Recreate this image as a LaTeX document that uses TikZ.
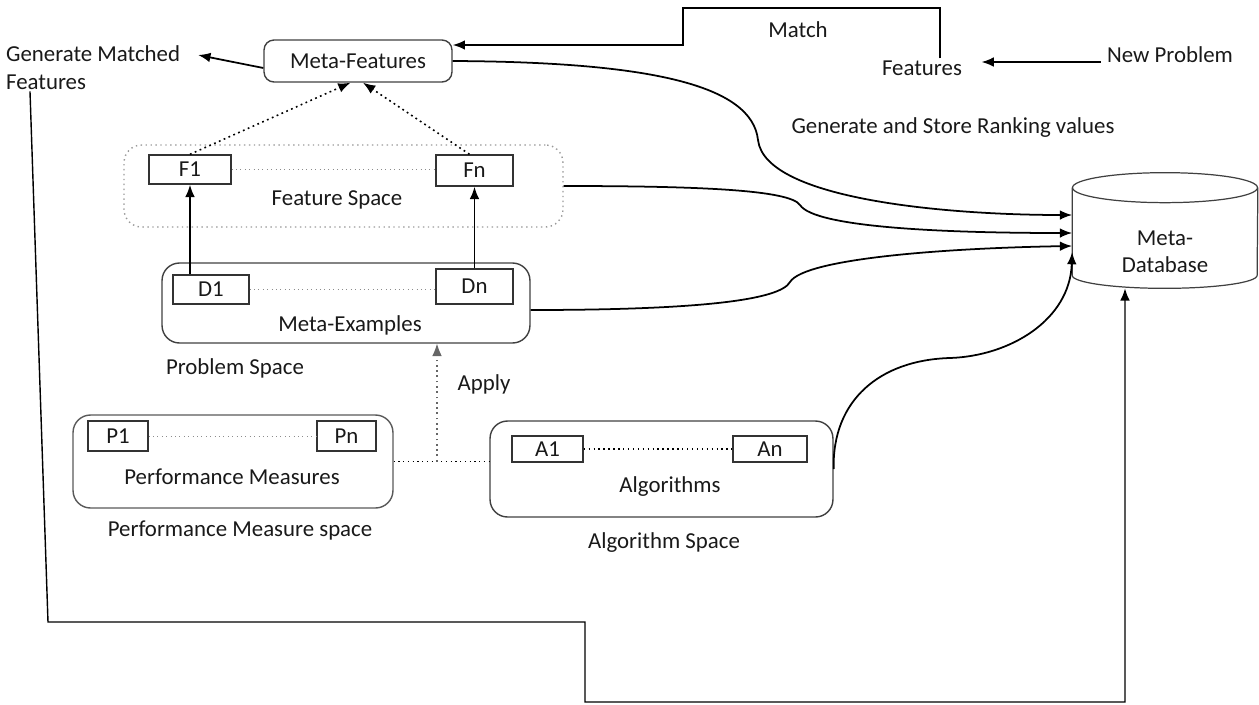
\documentclass[tikz,border=0pt]{standalone}
\usepackage{fontspec}
\setmainfont{Carlito}
\usetikzlibrary{arrows.meta}
\tikzset{
  every node/.style={font=\fontsize{13}{15.5}\selectfont, text=black!90},
  box/.style={draw=black!80, line width=0.8pt, inner sep=0pt},
  space/.style={draw=black!75, line width=0.8pt, rounded corners=0.35cm, inner sep=0pt},
  arr/.style={-{Latex[length=7pt,width=5.5pt]}, line width=1pt},
  link/.style={dotted, draw=black!45, line width=0.5pt},
  dotarr/.style={arr, dotted, line width=0.9pt},
  dbline/.style={draw=black!75, line width=0.7pt}
}
\begin{document}
\begin{tikzpicture}[x=0.02cm, y=-0.02cm]
\useasboundingbox (0,0) rectangle (1259,704);

\node[anchor=north west, align=flush left, text width=3.8cm, inner sep=1pt] (gmf) at (4,44) {Generate Matched\\Features};
\node[space, rounded corners=0.2cm, minimum width=3.76cm, minimum height=0.84cm] (metaf) at (358,61) {Meta-Features};
\node (match) at (798,30) {Match};
\node[inner sep=1pt] (feat) at (922,68) {Features};
\node (newp) at (1170,55) {New Problem};
\node (rank) at (953,128) {Generate and Store Ranking values};

\node[space, dotted, draw=black!40, minimum width=8.78cm, minimum height=1.64cm] (fspace) at (343.5,186) {};
\node (fslabel) at (337,200) {Feature Space};
\node[box, minimum width=1.64cm, minimum height=0.58cm] (f1) at (190,169.5) {F1};
\node[box, minimum width=1.54cm, minimum height=0.62cm] (fn) at (474.5,170.5) {Fn};

\node[space, minimum width=7.36cm, minimum height=1.6cm] (metaex) at (346,303) {};
\node (melabel) at (350,325) {Meta-Examples};
\node[box, minimum width=1.52cm, minimum height=0.58cm] (d1) at (211,289.5) {D1};
\node[box, minimum width=1.54cm, minimum height=0.7cm] (dn) at (474.5,286.5) {Dn};
\node (pspace) at (235,368) {Problem Space};
\node (apply) at (484,384) {Apply};

\node[space, draw=black!65, minimum width=6.4cm, minimum height=1.86cm] (perf) at (233,461.5) {};
\node (pmlabel) at (232,477) {Performance Measures};
\node[box, minimum width=1.2cm, minimum height=0.6cm] (p1) at (118,436) {P1};
\node[box, minimum width=1.18cm, minimum height=0.6cm] (pn) at (346.5,436) {Pn};
\node (pmspace) at (240,531) {Performance Measure space};

\node[space, minimum width=6.86cm, minimum height=1.92cm] (alg) at (661.5,469) {};
\node (alabel) at (670,487) {Algorithms};
\node[box, minimum width=1.42cm, minimum height=0.52cm] (a1) at (547.5,449) {A1};
\node[box, minimum width=1.48cm, minimum height=0.52cm] (an) at (770,449) {An};
\node (aspace) at (664,543) {Algorithm Space};

\node[inner sep=0pt, minimum width=3.7cm, minimum height=2.3cm] (db) at (1165,230.5) {};
\node[align=center] (dblabel) at (1165,252) {Meta-\\Database};
\draw[dbline] ([yshift=-0.3cm]db.north) ellipse [x radius=1.85cm, y radius=0.3cm];
\draw[dbline] ([yshift=-0.3cm]db.north west) -- ([yshift=0.26cm]db.south west)
  arc[start angle=180, end angle=360, x radius=1.85cm, y radius=0.26cm] -- ([yshift=-0.3cm]db.north east);

\coordinate (mid) at (437,461.5);

\draw[link] (f1.east) -- (fn.west |- f1.east);
\draw[link] (d1.east) -- (dn.west |- d1.east);
\draw[link] (p1.east) -- (pn.west);
\draw[dotted, line width=0.8pt] (a1.east) -- (an.west);

\draw[arr] (f1.south |- d1.north) -- (f1.south);
\draw[arr] (dn.north) -- (fn.south);
\draw[dotarr] (f1.north) -- ([xshift=-0.15cm]metaf.south);
\draw[dotarr] ([xshift=-0.1cm]fn.north) -- ([xshift=0.1cm]metaf.south);

\draw[dotted, line width=0.7pt] (perf.east) -- (alg.west |- perf.east);
\draw[dotarr, draw=black!60, line width=0.6pt] (mid) -- (mid |- metaex.south);

\draw[arr] (metaf.west |- 0,68) -- (gmf.east |- 0,55);
\draw[arr] (feat.north -| 940,0) |- (683,8) |- (metaf.east |- 0,45);
\draw[arr, shorten >=0.35cm] (newp.west |- 0,62) -- (feat.east |- 0,62);

\draw[arr] (metaf.east) .. controls (650,62) and (752,85) .. (758,140) .. controls (765,200) and (950,215) .. (db.west |- 0,215);
\draw[arr] (fspace.east) .. controls (700,186) and (790,190) .. (800,205) .. controls (815,228) and (950,233) .. (db.west |- 0,233);
\draw[arr] (metaex.east |- 0,310) .. controls (700,310) and (780,300) .. (790,282) .. controls (805,258) and (950,248) .. (db.west |- 0,246);
\draw[arr] (alg.east) .. controls (832,400) and (880,360) .. (950,358) .. controls (1010,356) and (1070,320) .. (db.west |- 0,252);

\draw[arr, line width=0.8pt] ([xshift=0.52cm]gmf.south west) -- (48,622) -| (585,702) -| (db.south -| 1125,0);
\end{tikzpicture}
\end{document}
